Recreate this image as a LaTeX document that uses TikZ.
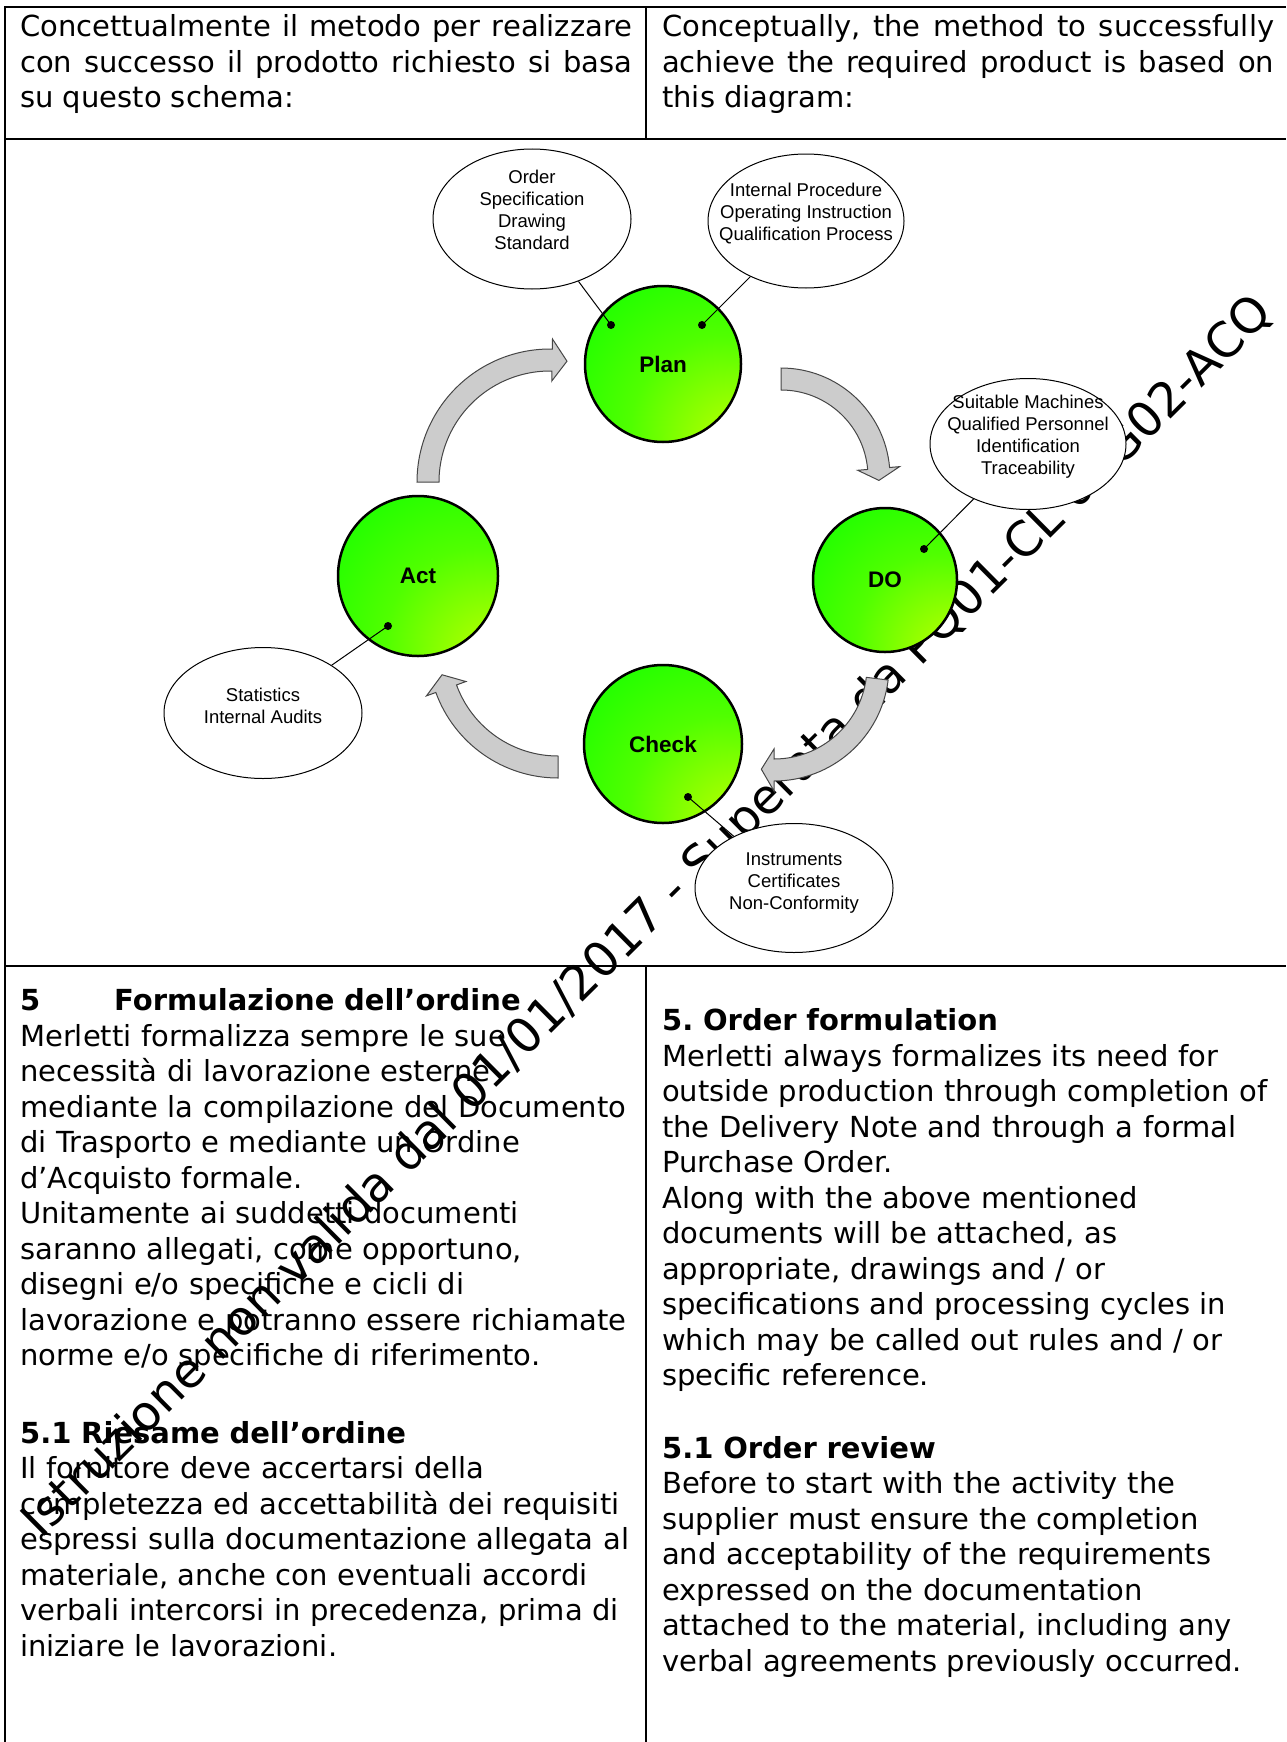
\documentclass[tikz,border=0pt]{standalone}
\usepackage{fontspec}
\setmainfont{DejaVu Sans}
\newfontfamily\arialfont{Liberation Sans}
\usetikzlibrary{shapes.geometric,calc}
\frenchspacing
\definecolor{ballgreen}{RGB}{16,255,0}
\definecolor{ballmid}{RGB}{80,255,0}
\definecolor{ballyg}{RGB}{165,255,0}
\definecolor{ballyellow}{RGB}{205,255,0}
\definecolor{arrowgray}{RGB}{204,204,204}
\definecolor{arrowedge}{RGB}{70,70,70}
\pgfdeclareradialshading{pdcaball}{\pgfpoint{28bp}{-30bp}}{color(0bp)=(ballyellow); color(10bp)=(ballyg); color(30bp)=(ballmid); color(55bp)=(ballgreen); color(100bp)=(ballgreen)}
\begin{document}
\begin{tikzpicture}[x=1pt,y=-1pt,
  rule/.style={line width=2pt},
  body/.style={anchor=north west,inner sep=0pt,text width=#1,font=\fontsize{29}{35.5}\selectfont,execute at begin node={\noindent\strut}},
  watermark/.style={inner sep=0pt,rotate=44.8,font=\fontsize{48}{57}\selectfont},
  pdca/.style={circle,draw=black,line width=2.5pt,shade,shading=pdcaball,font=\arialfont\bfseries\fontsize{22.5}{27}\selectfont},
  note/.style={ellipse,draw=black,line width=1pt,fill=white,inner sep=0pt},
  notetext/.style={inner sep=0pt,align=center,font=\arialfont\fontsize{18.5}{22}\selectfont},
  pindot/.style={circle,fill=black,inner sep=0pt,minimum size=8pt},
  pinline/.style={line width=1pt},
  cyclearrow/.style={fill=arrowgray,draw=arrowedge,line width=1pt}]
  \useasboundingbox (0,0) rectangle (1286,1742);
  % bordi della tabella
  \draw[rule] (4,7.5) -- (1286,7.5);
  \draw[rule] (4,139.5) -- (1286,139.5);
  \draw[rule] (4,965.5) -- (1286,965.5);
  \draw[rule] (5,6.5) -- (5,1742);
  \draw[rule] (646,6.5) -- (646,139.5);
  \draw[rule] (646,965.5) -- (646,1742);
  % testo intestazione
  \node[body=612pt,align=justify] (introit) at (20,11.75) {Concettualmente il metodo per realizzare\linebreak con successo il prodotto richiesto si basa\linebreak su questo schema:};
  \node[body=612pt,align=justify] (introen) at (662,11.75) {Conceptually, the method to successfully\linebreak achieve the required product is based on\linebreak this diagram:};
  % filigrana
  \node[watermark] (stamp) at (649,918) {Istruzione non valida dal 01/01/2017 - Superata da PQ01-CL 01G02-ACQ};
  % frecce del ciclo
  \def\pdcaarrow(#1)#2#3#4{%
    \draw[cyclearrow,shift={(#1)}] ({#3}:{#2+11}) arc[start angle=#3,end angle=#4,radius=#2+11]
      -- ({#4}:{#2+21}) -- ({#4+7}:{#2}) -- ({#4}:{#2-21}) -- ({#4}:{#2-11})
      arc[start angle=#4,end angle=#3,radius=#2-11] -- cycle;}
  \pdcaarrow(550,482){122}{180}{271}
  \pdcaarrow(781,477){98}{-90}{-5}
  \pdcaarrow(774,666){104}{7}{90}
  \pdcaarrow(558,648){119}{90}{160}
  % cerchi PDCA
  \node[pdca,minimum size=156pt] (plan) at (663,364) {Plan};
  \node[pdca,minimum size=144pt] (do) at (885,580) {DO};
  \node[pdca,minimum size=158pt] (check) at (663,744) {Check};
  \node[pdca,minimum size=160pt] (act) at (418,576) {Act};
  % note
  \node[note,minimum width=198pt,minimum height=140pt] (ordr) at (532,219) {};
  \node[note,minimum width=196pt,minimum height=134pt] (proc) at (806,221) {};
  \node[note,minimum width=196pt,minimum height=131pt] (mach) at (1028,444) {};
  \node[note,minimum width=198pt,minimum height=131pt] (stat) at (263,713) {};
  \node[note,minimum width=198pt,minimum height=129pt] (inst) at (794,888) {};
  \node[notetext] (ordrtext) at ($(ordr)+(0,-9)$) {Order\\Specification\\Drawing\\Standard};
  \node[notetext] (proctext) at ($(proc)+(0,-7)$) {Internal Procedure\\Operating Instruction\\Qualification Process};
  \node[notetext] (machtext) at ($(mach)+(0,-7)$) {Suitable Machines\\Qualified Personnel\\Identification\\Traceability};
  \node[notetext] (stattext) at ($(stat)+(0,-7)$) {Statistics\\Internal Audits};
  \node[notetext] (insttext) at ($(inst)+(0,-5)$) {Instruments\\Certificates\\Non-Conformity};
  % collegamenti
  \node[pindot] (dordr) at ($(plan)+(-52,-39)$) {};
  \node[pindot] (dproc) at ($(plan)+(39,-39)$) {};
  \node[pindot] (dmach) at ($(do)+(39,-31)$) {};
  \node[pindot] (dstat) at ($(act)+(-30,50)$) {};
  \node[pindot] (dinst) at ($(check)+(25,53)$) {};
  \draw[pinline] (dordr.center) -- (ordr);
  \draw[pinline] (dproc.center) -- (proc);
  \draw[pinline] (dmach.center) -- (mach);
  \draw[pinline] (dstat.center) -- (stat);
  \draw[pinline] (dinst.center) -- (inst);
  % testo paragrafo 5
  \node[body=640pt,align=left] (textit) at (20,985.75) {{\bfseries\makebox[94pt][l]{5}Formulazione dell’ordine}\\
    Merletti formalizza sempre le sue\\
    necessità di lavorazione esterne\\
    mediante la compilazione del Documento\\
    di Trasporto e mediante un Ordine\\
    d’Acquisto formale.\\
    Unitamente ai suddetti documenti\\
    saranno allegati, come opportuno,\\
    disegni e/o specifiche e cicli di\\
    lavorazione e potranno essere richiamate\\
    norme e/o specifiche di riferimento.\\[42pt]
    {\bfseries 5.1 Riesame dell’ordine}\\
    Il fornitore deve accertarsi della\\
    completezza ed accettabilità dei requisiti\\
    espressi sulla documentazione allegata al\\
    materiale, anche con eventuali accordi\\
    verbali intercorsi in precedenza, prima di\\
    iniziare le lavorazioni.};
  \node[body=640pt,align=left] (texten) at (662,1005.65) {{\bfseries 5. Order formulation}\\
    Merletti always formalizes its need for\\
    outside production through completion of\\
    the Delivery Note and through a formal\\
    Purchase Order.\\
    Along with the above mentioned\\
    documents will be attached, as\\
    appropriate, drawings and / or\\
    specifications and processing cycles in\\
    which may be called out rules and / or\\
    specific reference.\\[37pt]
    {\bfseries 5.1 Order review}\\
    Before to start with the activity the\\
    supplier must ensure the completion\\
    and acceptability of the requirements\\
    expressed on the documentation\\
    attached to the material, including any\\
    verbal agreements previously occurred.};
\end{tikzpicture}
\end{document}
